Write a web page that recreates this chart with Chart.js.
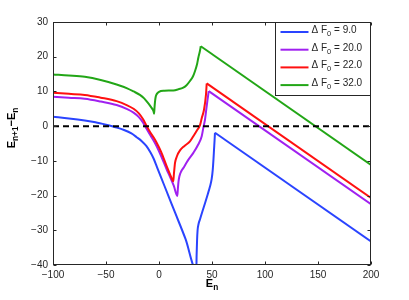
<!DOCTYPE html>
<html lang="en">
<head>
<meta charset="UTF-8">
<title>Level spacing</title>
<style>
  body { margin: 0; background: #fff; }
  .wrap { position: relative; width: 409px; height: 300px; }
</style>
</head>
<body>
<div class="wrap"><canvas id="chart"></canvas></div>

<script src="https://cdn.jsdelivr.net/npm/chart.js"></script>
<script>
// values
const xTicks = [-100, -50, 0, 50, 100, 150, 200];
const yTicks = [-40, -30, -20, -10, 0, 10, 20, 30];
const legendLabels = ['9.0', '20.0', '22.0', '32.0'];
const colors = ['#2a44ff', '#a020f0', '#ff1010', '#22a616'];

// dF0 = 9.0 (dips just below the -40 frame, clipped there)
const e9 = [-100, -85, -70, -60, -50, -40, -33, -26, -21, -16, -12, -8, -5, -2, 5, 15, 25, 35.2, 35.5, 35.9, 36.4, 37.3, 38.7, 41, 43.4, 46, 48.1, 49.7, 50.7, 51.4, 51.9, 52.4, 52.8, 200];
const d9 = [2.7, 2.2, 1.6, 1.1, 0.4, -0.4, -1.1, -2.1, -3.2, -4.4, -5.7, -7.6, -9.4, -11.7, -17.1, -24.8, -32.5, -41.5, -37, -33, -30, -28.2, -26.8, -24.5, -22.2, -19.6, -17.4, -15.2, -12.6, -9.5, -6.8, -4.2, -1.9, -33.2];

// dF0 = 20.0
const e20 = [-100, -85, -70, -55, -40, -30, -24, -19, -15, -12, -8, -5, -2.2, 2, 7.3, 10.4, 14, 17.3, 17.8, 18.4, 19.2, 21, 22.9, 27, 32.4, 37, 40.3, 41.8, 43.4, 45, 46.2, 46.9, 200];
const d20 = [8.5, 8.2, 7.9, 7.1, 6.1, 4.9, 3.9, 2.6, 1.0, -0.6, -2.7, -4.2, -5.8, -8.6, -12.5, -14.6, -17.2, -20.1, -18, -16, -14.5, -13.0, -12.1, -10, -7.7, -5.3, -2.9, -0.5, 1.9, 5.8, 8.5, 10.1, -22.5];

// dF0 = 22.0
const e22 = [-100, -85, -70, -55, -40, -30, -24, -19, -15, -11.6, -8, -5, -2.2, 2, 7.3, 11, 13.5, 14, 14.6, 15.1, 17, 19.8, 24, 29.2, 33, 35.6, 38.7, 40.3, 42.5, 44.3, 45, 200];
const d22 = [9.6, 9.3, 9.0, 8.2, 7.2, 6.0, 5.0, 3.7, 2.0, 0, -1.9, -3.3, -4.8, -7.4, -11.6, -14.3, -15.9, -14, -12, -10.6, -8.6, -7.0, -5.7, -4.4, -2.6, -1.3, 0.3, 2.3, 4.8, 9.0, 12.3, -20.7];

// dF0 = 32.0
const e32 = [-100, -85, -70, -55, -40, -30, -24, -18, -14, -11, -8, -6, -5, -4.6, -4.2, -3.6, -3, -2, 0, 5, 13.5, 18, 22.9, 26, 29.2, 32, 34, 36, 37.1, 38.5, 39.4, 200];
const d32 = [14.9, 14.6, 14.2, 13.3, 12.0, 10.9, 10.0, 9.0, 8.0, 6.9, 5.7, 4.8, 4.1, 3.6, 5.5, 7.5, 8.6, 9.3, 9.9, 10.2, 10.3, 10.6, 11.1, 11.8, 13.0, 14.3, 15.9, 18.0, 19.7, 21.5, 23.0, -11.2];

const zeroX = [-100, 200];
const zeroY = [0, 0];

const toPoints = (xs, ys) => xs.map((x, i) => ({ x: x, y: ys[i] }));

const FONT = "'Liberation Sans', Arial, sans-serif";
const INK = '#262626';

// text with subscripts; parts = [[text, isSub], ...]
function measureParts(ctx, parts, size, bold) {
    let w = 0;
    parts.forEach(p => {
        ctx.font = (bold ? 'bold ' : '') + (p[1] ? size * 0.75 : size) + 'px ' + FONT;
        w += ctx.measureText(p[0]).width;
    });
    return w;
}
function drawParts(ctx, parts, x, y, size, bold) {
    parts.forEach(p => {
        ctx.font = (bold ? 'bold ' : '') + (p[1] ? size * 0.75 : size) + 'px ' + FONT;
        ctx.fillText(p[0], x, p[1] ? y + size * 0.3 : y);
        x += ctx.measureText(p[0]).width;
    });
}

const frame = {
    id: 'frame',
    afterDatasetsDraw(chart) {
        const { ctx, chartArea: a, scales } = chart;
        const L = Math.round(a.left) + 0.5, R = Math.round(a.right) - 0.5;
        const T = Math.round(a.top) + 0.5, B = Math.round(a.bottom) - 0.5;
        ctx.save();
        ctx.strokeStyle = INK;
        ctx.lineWidth = 1;
        ctx.strokeRect(L, T, R - L, B - T);

        // inward ticks on all four sides
        ctx.beginPath();
        xTicks.forEach(v => {
            const px = Math.round(scales.x.getPixelForValue(v)) + 0.5;
            ctx.moveTo(px, B); ctx.lineTo(px, B - 3);
            ctx.moveTo(px, T); ctx.lineTo(px, T + 3);
        });
        yTicks.forEach(v => {
            const py = Math.round(scales.y.getPixelForValue(v)) + 0.5;
            ctx.moveTo(L, py); ctx.lineTo(L + 3, py);
            ctx.moveTo(R, py); ctx.lineTo(R - 3, py);
        });
        ctx.stroke();

        // legend box in the top right corner
        const bx = R - 95, by = T, bw = 95, bh = 73;
        ctx.fillStyle = '#fff';
        ctx.fillRect(bx, by, bw, bh);
        ctx.strokeRect(bx, by, bw, bh);
        ctx.textBaseline = 'alphabetic';
        ctx.textAlign = 'left';
        legendLabels.forEach((lab, i) => {
            const ly = by + 9.5 + i * 17.7;
            ctx.strokeStyle = colors[i];
            ctx.lineWidth = 2;
            ctx.beginPath();
            ctx.moveTo(bx + 5, ly); ctx.lineTo(bx + 33, ly);
            ctx.stroke();
            ctx.fillStyle = INK;
            drawParts(ctx, [['\u0394 F', false], ['0', true], [' = ' + lab, false]], bx + 36, ly + 1, 10, false);
        });

        // axis titles
        ctx.fillStyle = '#000';
        const xt = [['E', false], ['n', true]];
        const xw = measureParts(ctx, xt, 11, true);
        drawParts(ctx, xt, (a.left + a.right) / 2 - xw / 2, 287, 11, true);

        const yt = [['E', false], ['n+1', true], ['\u2212E', false], ['n', true]];
        const yw = measureParts(ctx, yt, 11, true);
        ctx.translate(15, 128);
        ctx.rotate(-Math.PI / 2);
        drawParts(ctx, yt, -yw / 2, 0, 11, true);
        ctx.restore();
    }
};

// curved part (smooth) up to the peak, then the straight run to the right edge
function series(xs, ys, color, order) {
    const n = xs.length;
    return [
        { data: toPoints(xs.slice(0, n - 1), ys.slice(0, n - 1)), borderColor: color, order: order,
          cubicInterpolationMode: 'monotone' },
        { data: toPoints(xs.slice(n - 2), ys.slice(n - 2)), borderColor: color, order: order }
    ];
}

const tickFont = { family: FONT, size: 10 };
const minus = v => String(v).replace('-', '\u2212');

new Chart(document.getElementById('chart'), {
    type: 'scatter',
    data: {
        datasets: [
            { data: toPoints(zeroX, zeroY), borderColor: '#000', borderDash: [6, 4], order: 0 },
            ...series(e32, d32, colors[3], 1),
            ...series(e22, d22, colors[2], 2),
            ...series(e20, d20, colors[1], 3),
            ...series(e9, d9, colors[0], 4)
        ]
    },
    options: {
        responsive: true,
        maintainAspectRatio: false,
        animation: false,
        showLine: true,
        elements: {
            point: { radius: 0, hoverRadius: 0 },
            line: { borderWidth: 2, tension: 0, fill: false, borderJoinStyle: 'round' }
        },
        layout: { padding: { top: 22, right: 38, left: 0, bottom: 0 } },
        plugins: { legend: { display: false }, tooltip: { enabled: false } },
        scales: {
            x: {
                type: 'linear', min: -100, max: 200,
                afterBuildTicks: s => { s.ticks = xTicks.map(v => ({ value: v })); },
                afterFit: s => { s.height = 35; },
                grid: { display: false, drawTicks: false },
                border: { display: false },
                ticks: { font: tickFont, color: INK, padding: 4, maxRotation: 0, callback: minus }
            },
            y: {
                type: 'linear', min: -40, max: 30,
                afterBuildTicks: s => { s.ticks = yTicks.map(v => ({ value: v })); },
                afterFit: s => { s.width = 53; },
                grid: { display: false, drawTicks: false },
                border: { display: false },
                ticks: { font: tickFont, color: INK, padding: 5, callback: minus }
            }
        }
    },
    plugins: [frame]
});
</script>
</body>
</html>
